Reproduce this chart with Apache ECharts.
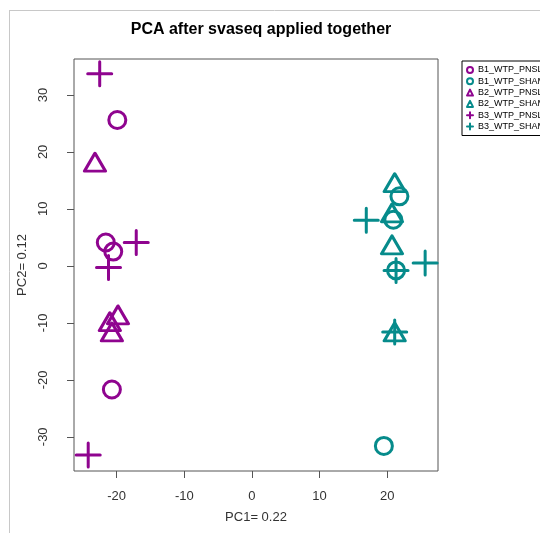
<!DOCTYPE html>
<html>
<head>
<meta charset="utf-8">
<script src="https://cdn.jsdelivr.net/npm/echarts@6/dist/echarts.min.js"></script>
<style>
  html, body { margin: 0; padding: 0; background: #fff; }
  #pca { width: 540px; height: 533px; }
</style>
</head>
<body>
<div id="pca"></div>
<script>
// sample groups, in legend order
const groups = ["B1_WTP_PNSL", "B1_WTP_SHAM", "B2_WTP_PNSL", "B2_WTP_SHAM", "B3_WTP_PNSL", "B3_WTP_SHAM"];

// PC1 / PC2 scores
const b1_pnsl = [[-19.9, 25.6], [-21.6, 4.1], [-20.5, 2.5], [-20.7, -21.7]];
const b1_sham = [[21.8, 12.2], [20.9, 8.1], [21.3, -0.8], [19.5, -31.6]];
const b2_pnsl = [[-23.2, 18.2], [-19.8, -8.6], [-21.0, -9.8], [-20.7, -11.6]];
const b2_sham = [[21.1, 14.6], [20.7, 9.3], [20.7, 3.7], [21.1, -11.6]];
const b3_pnsl = [[-22.5, 33.7], [-17.1, 4.1], [-21.2, -0.3], [-24.2, -33.2]];
const b3_sham = [[16.9, 8.0], [25.6, 0.5], [21.3, -0.8], [21.1, -11.6]];

const xTicks = [-20, -10, 0, 10, 20];
const yTicks = [-30, -20, -10, 0, 10, 20, 30];

const purple = "#8f048f";
const teal = "#068b8b";
const plus = "path://M0,12L24,12M12,0L12,24";

const seriesData = [b1_pnsl, b1_sham, b2_pnsl, b2_sham, b3_pnsl, b3_sham];
const colors = [purple, teal, purple, teal, purple, teal];
const shapes = ["circle", "circle", "triangle", "triangle", plus, plus];
const sizes = [17, 17, [21, 18], [21, 18], 24, 24];

const font = "Liberation Sans";

const chart = echarts.init(document.getElementById("pca"));

const option = {
  animation: false,
  title: {
    text: "PCA after svaseq applied together",
    left: 256,
    top: 17,
    textAlign: "center",
    textStyle: { fontFamily: font, fontSize: 16, fontWeight: "bold", color: "#000" }
  },
  legend: {
    orient: "vertical",
    left: 462,
    top: 61,
    padding: [4.5, 40, 4.5, 4],
    itemWidth: 6,
    itemHeight: 6,
    itemGap: 2.3,
    selectedMode: false,
    borderColor: "#000",
    borderWidth: 1,
    textStyle: { fontFamily: font, fontSize: 9, lineHeight: 9, color: "#000" },
    data: groups.map((g, i) => ({
      name: g,
      icon: shapes[i],
      itemStyle: { color: "transparent", borderColor: colors[i], borderWidth: 2 }
    }))
  },
  grid: {
    left: 74, right: 102, top: 59, bottom: 62,
    show: true, borderColor: "#555", borderWidth: 1, backgroundColor: "transparent"
  },
  xAxis: {
    type: "value",
    min: -26.3,
    max: 27.5,
    name: "PC1= 0.22",
    nameLocation: "middle",
    nameGap: 40,
    nameTextStyle: { fontFamily: font, fontSize: 13, color: "#333" },
    axisLine: { show: false, onZero: false },
    splitLine: { show: false },
    axisTick: { show: true, length: 7, customValues: xTicks, lineStyle: { color: "#555" } },
    axisLabel: { customValues: xTicks, margin: 19, fontFamily: font, fontSize: 13, color: "#333" }
  },
  yAxis: {
    type: "value",
    min: -36.0,
    max: 36.3,
    name: "PC2= 0.12",
    nameLocation: "middle",
    nameGap: 44,
    nameTextStyle: { fontFamily: font, fontSize: 13, color: "#333" },
    axisLine: { show: false, onZero: false },
    splitLine: { show: false },
    axisTick: { show: true, length: 7, customValues: yTicks, lineStyle: { color: "#555" } },
    axisLabel: { customValues: yTicks, rotate: 90, margin: 24, fontFamily: font, fontSize: 13, color: "#333" }
  },
  graphic: [
    { type: "line", shape: { x1: 9.5, y1: 10, x2: 9.5, y2: 533 }, style: { stroke: "#c8c8c8", lineWidth: 1 } },
    { type: "line", shape: { x1: 9, y1: 10.5, x2: 540, y2: 10.5 }, style: { stroke: "#c8c8c8", lineWidth: 1 } }
  ],
  series: groups.map((g, i) => ({
    name: g,
    type: "scatter",
    data: seriesData[i],
    symbol: shapes[i],
    symbolSize: sizes[i],
    itemStyle: {
      color: "transparent",
      borderColor: colors[i],
      borderWidth: 3,
      borderJoin: "round",
      borderCap: "round",
      opacity: 1
    },
    emphasis: { disabled: true }
  }))
};

chart.setOption(option);
</script>
</body>
</html>
